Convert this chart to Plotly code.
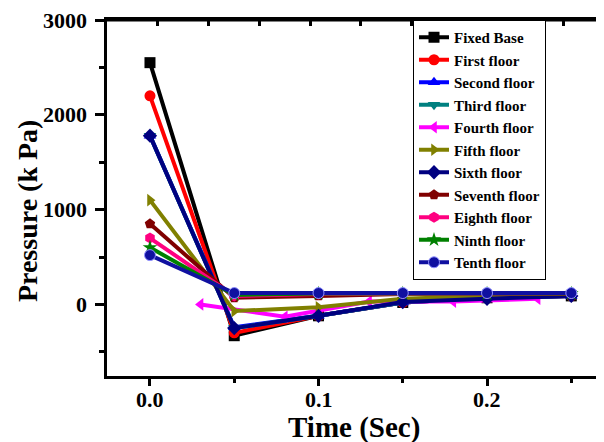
import plotly.graph_objects as go

time = [0.0, 0.05, 0.10, 0.15, 0.20, 0.25]
time_fourth = [0.03, 0.08, 0.13, 0.18, 0.23]

fixed_base = [2550, -330, -120, 20, 70, 90]
first_floor = [2200, -300, -120, 20, 70, 90]
second_floor = [1780, -240, -120, 20, 70, 90]
third_floor = [1780, -250, -120, 20, 70, 90]
fourth_floor = [0, -130, 30, 30, 60]
fifth_floor = [1100, -70, -30, 60, 90, 100]
sixth_floor = [1780, -250, -120, 25, 60, 90]
seventh_floor = [850, 70, 90, 110, 110, 110]
eighth_floor = [700, 90, 110, 115, 115, 115]
ninth_floor = [600, 100, 115, 115, 115, 115]
tenth_floor = [520, 120, 120, 120, 120, 120]

x_ticks = [0.0, 0.1, 0.2]
y_ticks = [0, 1000, 2000, 3000]

series = [
    ("Fixed Base", time, fixed_base, "#000000", "square"),
    ("First floor", time, first_floor, "#FF0000", "circle"),
    ("Second floor", time, second_floor, "#0000FF", "triangle-up"),
    ("Third floor", time, third_floor, "#008080", "triangle-down"),
    ("Fourth floor", time_fourth, fourth_floor, "#FF00FF", "triangle-left"),
    ("Fifth floor", time, fifth_floor, "#808000", "triangle-right"),
    ("Sixth floor", time, sixth_floor, "#000080", "diamond"),
    ("Seventh floor", time, seventh_floor, "#800000", "pentagon"),
    ("Eighth floor", time, eighth_floor, "#FF0080", "hexagon"),
    ("Ninth floor", time, ninth_floor, "#008000", "star"),
    ("Tenth floor", time, tenth_floor, "#1010A0", "circle"),
]

FONT = "Liberation Serif"
fig = go.Figure()
for name, xs, ys, color, sym in series:
    mline = dict(width=1, color="#9090FF") if name == "Tenth floor" else dict(width=0)
    fig.add_trace(go.Scatter(
        x=xs, y=ys, name=name, mode="lines+markers",
        line=dict(color=color, width=4),
        marker=dict(symbol=sym, size=11, color=color, line=mline),
    ))

XR = [-0.0255, 0.2694]
YR = [-755, 3000]

annotations = [
    dict(text=f"<b>{v:.1f}</b>", xref="x", yref="paper", x=v, y=-0.067,
         xanchor="center", yanchor="middle", showarrow=False,
         font=dict(family=FONT, size=22, color="black"))
    for v in x_ticks
]
annotations += [
    dict(text=f"<b>{v}</b>", xref="paper", yref="y", x=-0.037, y=v,
         xanchor="right", yanchor="middle", showarrow=False,
         font=dict(family=FONT, size=22, color="black"))
    for v in y_ticks
]
annotations += [
    dict(text="<b>Time (Sec)</b>", xref="paper", yref="paper", x=0.4965, y=-0.146,
         xanchor="center", yanchor="middle", showarrow=False,
         font=dict(family=FONT, size=29, color="black")),
    dict(text="<b>Pressure (k Pa)</b>", xref="paper", yref="paper", x=-0.161, y=0.466,
         xanchor="center", yanchor="middle", showarrow=False, textangle=-90,
         font=dict(family=FONT, size=28, color="black")),
]

# page body has an 8px margin: figure is 596x434 drawn at (8, 8)
fig.update_layout(
    width=596, height=434,
    margin=dict(l=99, r=0, t=12, b=66, autoexpand=False),
    paper_bgcolor="white", plot_bgcolor="white",
    font=dict(family=FONT, color="black"),
    showlegend=True,
    legend=dict(
        x=0.6157, y=1, xanchor="left", yanchor="top",
        bordercolor="black", borderwidth=1, bgcolor="white",
        font=dict(family=FONT, size=15, color="black", weight="bold"),
        itemwidth=30, tracegroupgap=0,
    ),
    xaxis=dict(
        range=XR, showgrid=False, zeroline=False, automargin=False,
        showline=True, linecolor="black", linewidth=3,
        ticks="outside", ticklen=7, tickwidth=3, tickcolor="black",
        tickvals=x_ticks, showticklabels=False,
        minor=dict(dtick=0.05, tick0=0, ticks="outside", ticklen=4, tickwidth=3, tickcolor="black", showgrid=False),
    ),
    xaxis2=dict(
        range=XR, overlaying="x", anchor="y", side="top", showgrid=False, zeroline=False, automargin=False,
        showline=True, linecolor="black", linewidth=3,
        ticks="inside", ticklen=6, tickwidth=3, tickcolor="black",
        tickmode="linear", tick0=0.0047, dtick=0.0301, showticklabels=False,
    ),
    yaxis=dict(
        range=YR, showgrid=False, zeroline=False, automargin=False,
        showline=True, linecolor="black", linewidth=3,
        ticks="outside", ticklen=9, tickwidth=3, tickcolor="black",
        tickvals=y_ticks, showticklabels=False,
        minor=dict(dtick=500, tick0=0, ticks="outside", ticklen=5, tickwidth=3, tickcolor="black", showgrid=False),
    ),
    yaxis2=dict(
        range=YR, overlaying="y", anchor="x", side="right", showgrid=False, zeroline=False, automargin=False,
        showline=False, ticks="inside", ticklen=4, tickwidth=2, tickcolor="black",
        tickvals=[10, 750, 1495, 2253], showticklabels=False,
    ),
    shapes=[
        dict(type="line", xref="paper", yref="paper", x0=-0.003, x1=1, y0=1, y1=1,
             line=dict(color="black", width=3), layer="above"),
    ],
    annotations=annotations,
)
fig.add_trace(go.Scatter(x=[XR[0]], y=[YR[0]], xaxis="x2", yaxis="y", mode="markers",
                         marker=dict(opacity=0), showlegend=False, hoverinfo="skip"))
fig.add_trace(go.Scatter(x=[XR[0]], y=[YR[0]], xaxis="x", yaxis="y2", mode="markers",
                         marker=dict(opacity=0), showlegend=False, hoverinfo="skip"))

fig.write_html("out.html")
